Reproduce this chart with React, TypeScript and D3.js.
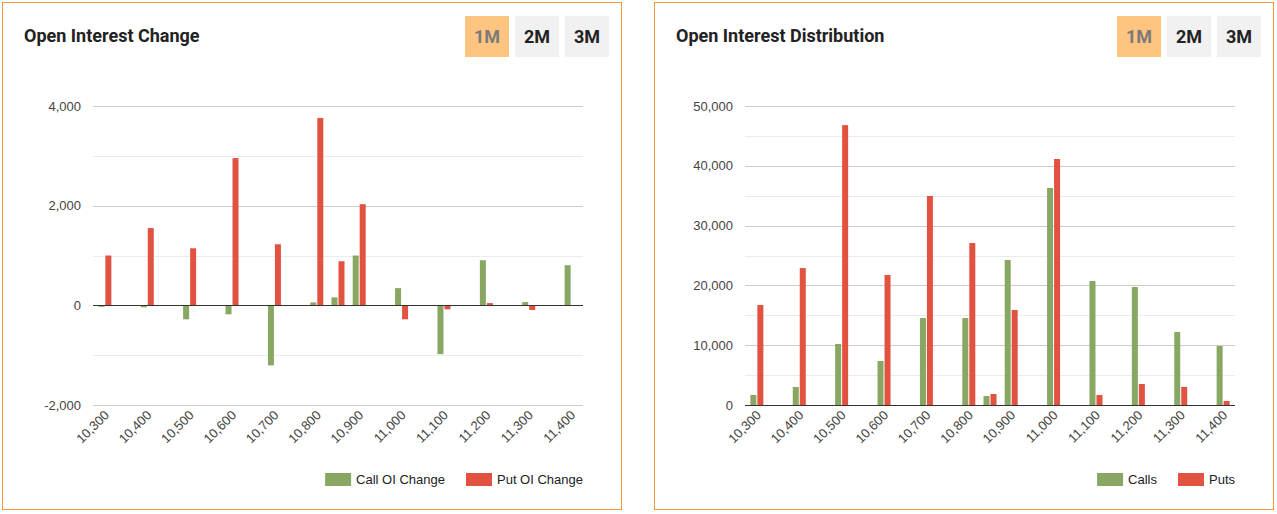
import React, { useEffect, useRef } from 'react';
import * as d3 from 'd3';

// strikes, with the extra 10,850 row that sits between the 100-steps
const strikes = [10300, 10400, 10500, 10600, 10700, 10800, 10850, 10900, 11000, 11100, 11200, 11300, 11400];
const tickStrikes = [10300, 10400, 10500, 10600, 10700, 10800, 10900, 11000, 11100, 11200, 11300, 11400];

const callOiChange = [-30, -40, -280, -180, -1205, 60, 160, 1000, 345, -980, 905, 65, 805];
const putOiChange = [1000, 1550, 1145, 2955, 1225, 3760, 885, 2030, -280, -80, 45, -95, 0];

const callOi = [1670, 3010, 10200, 7360, 14550, 14550, 1500, 24250, 36290, 20730, 19730, 12200, 9860];
const putOi = [16720, 22900, 46800, 21740, 34950, 27090, 1840, 15890, 41140, 1670, 3510, 3010, 670];

const changeMajorTicks = [-2000, 0, 2000, 4000];
const changeMinorTicks = [-1000, 1000, 3000];
const distMajorTicks = [0, 10000, 20000, 30000, 40000, 50000];
const distMinorTicks = [5000, 15000, 25000, 35000, 45000];

const periods = ['1M', '2M', '3M'];

const GREEN = '#87a763';
const RED = '#e15241';
const AXIS_FONT = "'Liberation Sans', Arial, sans-serif";
const TITLE_FONT = "Roboto, 'Noto Sans', sans-serif";

interface PanelConfig {
  x0: number;
  title: string;
  calls: number[];
  puts: number[];
  yDomain: [number, number];
  major: number[];
  minor: number[];
  legend: [string, string];
}

const measure = (() => {
  const ctx = document.createElement('canvas').getContext('2d')!;
  return (text: string, font: string) => {
    ctx.font = font;
    return ctx.measureText(text).width;
  };
})();

function drawPanel(svg: d3.Selection<SVGSVGElement, unknown, null, undefined>, cfg: PanelConfig) {
  const g = svg.append('g');
  const { x0 } = cfg;

  // panel frame
  g.append('rect')
    .attr('x', x0 + 0.5)
    .attr('y', 2.5)
    .attr('width', 619)
    .attr('height', 507)
    .attr('fill', '#fff')
    .attr('stroke', '#f7983a')
    .attr('stroke-width', 1);

  g.append('text')
    .attr('x', x0 + 22)
    .attr('y', 42)
    .attr('font-family', TITLE_FONT)
    .attr('font-weight', 700)
    .attr('font-size', 18)
    .attr('fill', '#222')
    .text(cfg.title);

  // period buttons
  periods.forEach((p, i) => {
    const bx = x0 + 463 + i * 50;
    g.append('rect')
      .attr('x', bx)
      .attr('y', 16)
      .attr('width', 44)
      .attr('height', 41)
      .attr('fill', i === 0 ? '#ffc480' : '#f1f1f1');
    g.append('text')
      .attr('x', bx + 22)
      .attr('y', 43)
      .attr('text-anchor', 'middle')
      .attr('font-family', TITLE_FONT)
      .attr('font-weight', 700)
      .attr('font-size', 18)
      .attr('fill', i === 0 ? '#7a7a7a' : '#222')
      .text(p);
  });

  const left = x0 + 91;
  const right = x0 + 581;
  const x = d3.scaleLinear().domain([10272, 11428]).range([left, right]);
  const y = d3.scaleLinear().domain(cfg.yDomain).range([405, 106]);

  // gridlines
  cfg.minor.forEach((t) => {
    const yy = Math.round(y(t)) + 0.5;
    g.append('line').attr('x1', left).attr('x2', right).attr('y1', yy).attr('y2', yy)
      .attr('stroke', '#ebebeb');
  });
  cfg.major.forEach((t) => {
    const yy = Math.round(y(t)) + 0.5;
    g.append('line').attr('x1', left).attr('x2', right).attr('y1', yy).attr('y2', yy)
      .attr('stroke', t === 0 ? 'none' : '#cccccc');
    g.append('text')
      .attr('x', left - 12)
      .attr('y', y(t))
      .attr('dy', '0.35em')
      .attr('text-anchor', 'end')
      .attr('font-family', AXIS_FONT)
      .attr('font-size', 13)
      .attr('fill', '#444')
      .text(d3.format(',')(t).replace('−', '-'));
  });

  // bars
  const bars = g.append('g');
  strikes.forEach((s, i) => {
    const c = x(s);
    const cv = cfg.calls[i];
    const pv = cfg.puts[i];
    bars.append('rect')
      .attr('x', c - 6.5)
      .attr('width', 6)
      .attr('y', Math.min(y(cv), y(0)))
      .attr('height', Math.abs(y(cv) - y(0)))
      .attr('fill', GREEN);
    bars.append('rect')
      .attr('x', c + 0.5)
      .attr('width', 6)
      .attr('y', Math.min(y(pv), y(0)))
      .attr('height', Math.abs(y(pv) - y(0)))
      .attr('fill', RED);
  });

  // zero baseline
  const y0 = Math.round(y(0)) + 0.5;
  g.append('line').attr('x1', left).attr('x2', right).attr('y1', y0).attr('y2', y0)
    .attr('stroke', '#333').attr('stroke-width', 1.2);

  // rotated x labels
  tickStrikes.forEach((s) => {
    g.append('text')
      .attr('transform', `translate(${x(s) + 5},${416}) rotate(-45)`)
      .attr('text-anchor', 'end')
      .attr('font-family', AXIS_FONT)
      .attr('font-size', 13)
      .attr('fill', '#444')
      .text(d3.format(',')(s));
  });

  // legend, right aligned to plot edge
  const font = `13px ${AXIS_FONT}`;
  const w1 = measure(cfg.legend[0], font);
  const w2 = measure(cfg.legend[1], font);
  const item2 = right - w2 - 5 - 26;
  const item1 = item2 - 21 - w1 - 5 - 26;
  [[item1, GREEN, cfg.legend[0]], [item2, RED, cfg.legend[1]]].forEach(([lx, col, label]) => {
    g.append('rect')
      .attr('x', lx as number)
      .attr('y', 473)
      .attr('width', 26)
      .attr('height', 13)
      .attr('fill', col as string);
    g.append('text')
      .attr('x', (lx as number) + 31)
      .attr('y', 479.5)
      .attr('dy', '0.35em')
      .attr('font-family', AXIS_FONT)
      .attr('font-size', 13)
      .attr('fill', '#222')
      .text(label as string);
  });
}

export default function App() {
  const svgRef = useRef<SVGSVGElement>(null);

  useEffect(() => {
    if (!svgRef.current) return;
    const svg = d3.select(svgRef.current);
    svg.selectAll('*').remove();

    drawPanel(svg, {
      x0: 2,
      title: 'Open Interest Change',
      calls: callOiChange,
      puts: putOiChange,
      yDomain: [-2000, 4000],
      major: changeMajorTicks,
      minor: changeMinorTicks,
      legend: ['Call OI Change', 'Put OI Change'],
    });
    drawPanel(svg, {
      x0: 654,
      title: 'Open Interest Distribution',
      calls: callOi,
      puts: putOi,
      yDomain: [0, 50000],
      major: distMajorTicks,
      minor: distMinorTicks,
      legend: ['Calls', 'Puts'],
    });
  }, []);

  return (
    <div style={{ position: 'absolute', left: 0, top: 0 }}>
      <svg ref={svgRef} width={1277} height={514} style={{ display: 'block', background: '#fff' }} />
    </div>
  );
}
